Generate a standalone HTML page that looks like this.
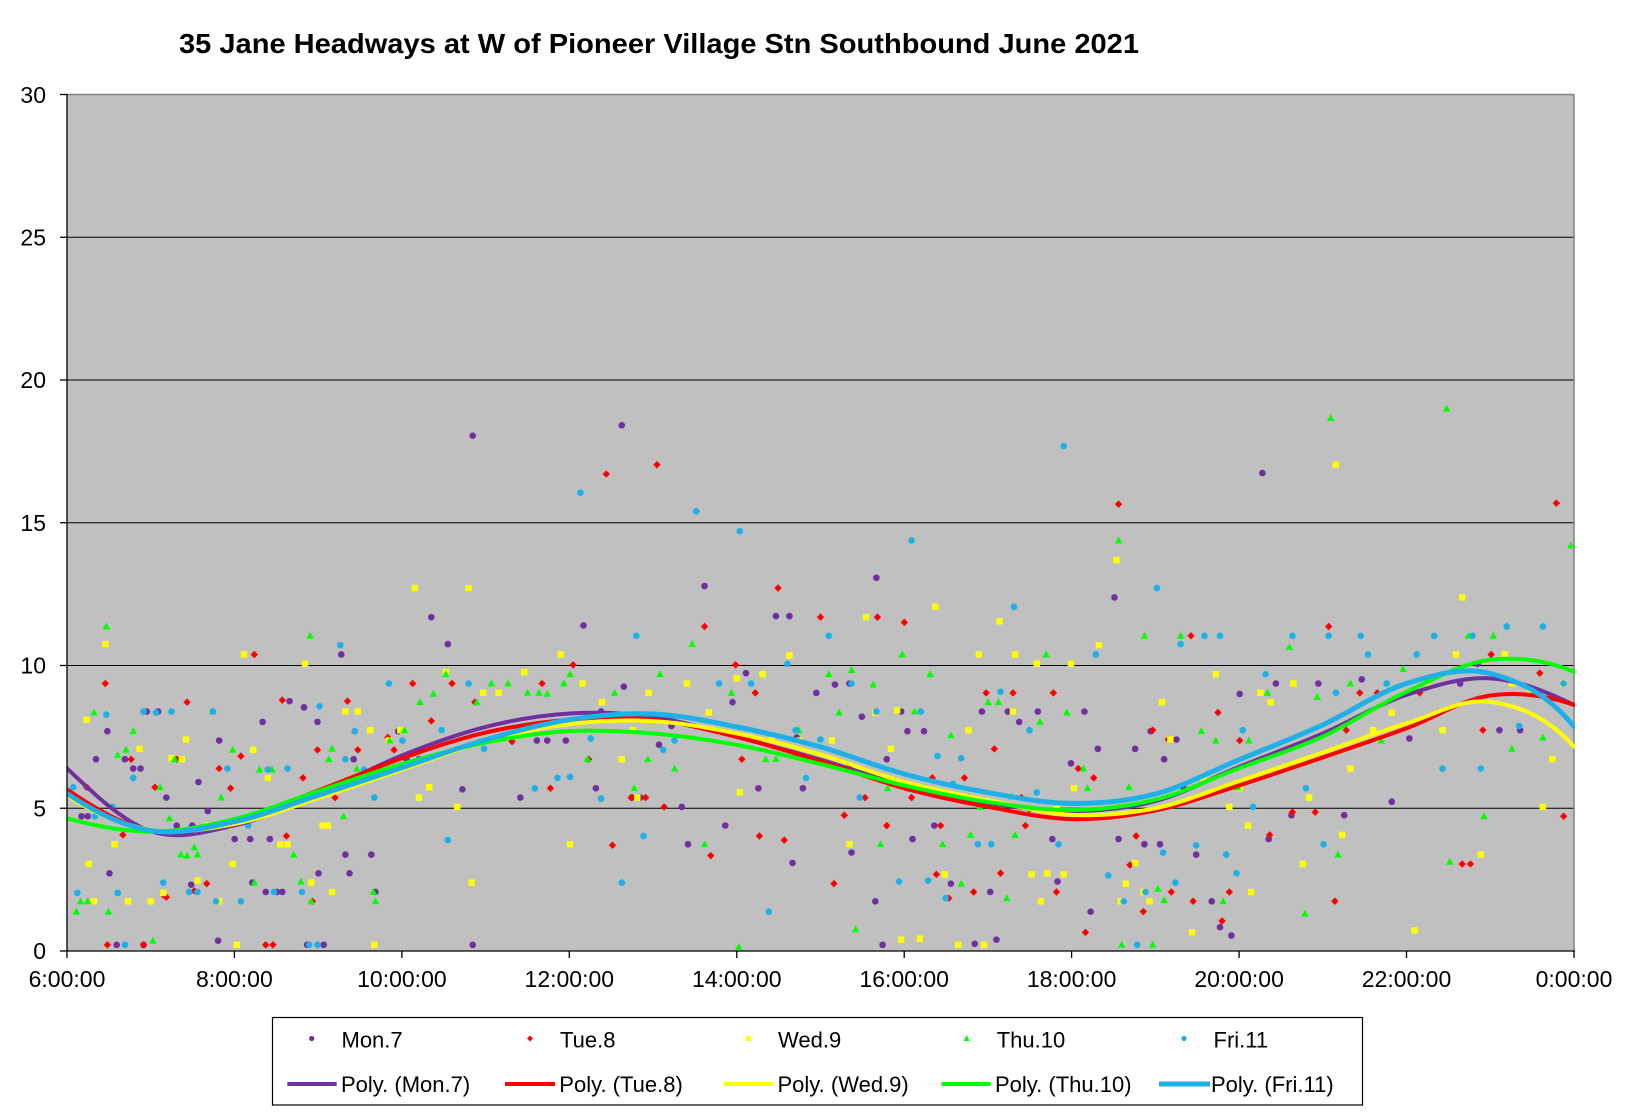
<!DOCTYPE html>
<html><head><meta charset="utf-8"><style>
html,body{margin:0;padding:0;background:#fff;}
svg{display:block;}
text{font-family:"Liberation Sans",Arial,sans-serif;fill:#000;}
</style></head><body>
<svg width="1625" height="1113" viewBox="0 0 1625 1113" xmlns="http://www.w3.org/2000/svg">
<defs>
<circle id="c" r="3.2"/>
<path id="d" d="M0,-3.6L3.6,0L0,3.6L-3.6,0Z"/>
<rect id="s" x="-3.1" y="-3.1" width="6.2" height="6.2"/>
<path id="t" d="M0,-3.8L3.6,2.8L-3.6,2.8Z"/>
<clipPath id="pa"><rect x="67" y="94" width="1508" height="858"/></clipPath>
</defs>
<rect width="1625" height="1113" fill="#fff"/>
<text x="179" y="53" font-size="27.5" font-weight="bold" textLength="960" lengthAdjust="spacingAndGlyphs">35 Jane Headways at W of Pioneer Village Stn Southbound June 2021</text>
<rect x="67" y="94.5" width="1507" height="856.5" fill="#C0C0C0"/>
<g stroke="#000" stroke-width="1">
<line x1="67" y1="808.25" x2="1574" y2="808.25"/>
<line x1="67" y1="665.5" x2="1574" y2="665.5"/>
<line x1="67" y1="522.75" x2="1574" y2="522.75"/>
<line x1="67" y1="380" x2="1574" y2="380"/>
<line x1="67" y1="237.25" x2="1574" y2="237.25"/>
</g>
<g stroke="#808080" stroke-width="1.5">
<line x1="67" y1="94.5" x2="1574" y2="94.5"/>
<line x1="1574" y1="94.5" x2="1574" y2="951"/>
</g>
<g clip-path="url(#pa)">
<g transform="matrix(1.035 0 0 1.037 0.76 -0.9)">
<g fill="#7030A0">
<use href="#c" x="78" y="788"/><use href="#c" x="84" y="788"/><use href="#c" x="92" y="733"/><use href="#c" x="103" y="706"/><use href="#c" x="105" y="843"/><use href="#c" x="112" y="912"/><use href="#c" x="120" y="733"/><use href="#c" x="128" y="742"/><use href="#c" x="135" y="742"/><use href="#c" x="141" y="687"/><use href="#c" x="138" y="912"/><use href="#c" x="152" y="687"/><use href="#c" x="160" y="770"/><use href="#c" x="170" y="797"/><use href="#c" x="185" y="797"/><use href="#c" x="184" y="854"/><use href="#c" x="191" y="755"/><use href="#c" x="200" y="783"/><use href="#c" x="211" y="715"/><use href="#c" x="210" y="908"/><use href="#c" x="226" y="810"/><use href="#c" x="241" y="810"/><use href="#c" x="243" y="852"/><use href="#c" x="256" y="861"/><use href="#c" x="253" y="697"/><use href="#c" x="260" y="810"/><use href="#c" x="267" y="861"/><use href="#c" x="272" y="861"/><use href="#c" x="279" y="677"/><use href="#c" x="293" y="683"/><use href="#c" x="296" y="912"/><use href="#c" x="306" y="697"/><use href="#c" x="307" y="843"/><use href="#c" x="312" y="912"/><use href="#c" x="329" y="632"/><use href="#c" x="333" y="825"/><use href="#c" x="337" y="843"/><use href="#c" x="341" y="733"/><use href="#c" x="358" y="825"/><use href="#c" x="362" y="861"/><use href="#c" x="384" y="706"/><use href="#c" x="392" y="733"/><use href="#c" x="404" y="733"/><use href="#c" x="416" y="596"/><use href="#c" x="432" y="622"/><use href="#c" x="446" y="762"/><use href="#c" x="456" y="421"/><use href="#c" x="456" y="912"/><use href="#c" x="483" y="712"/><use href="#c" x="502" y="770"/><use href="#c" x="518" y="715"/><use href="#c" x="528" y="715"/><use href="#c" x="546" y="715"/><use href="#c" x="563" y="604"/><use href="#c" x="575" y="761"/><use href="#c" x="580" y="687"/><use href="#c" x="600" y="411"/><use href="#c" x="602" y="663"/><use href="#c" x="610" y="770"/><use href="#c" x="618" y="770"/><use href="#c" x="636" y="719"/><use href="#c" x="648" y="701"/><use href="#c" x="658" y="779"/><use href="#c" x="664" y="815"/><use href="#c" x="680" y="566"/><use href="#c" x="700" y="797"/><use href="#c" x="707" y="678"/><use href="#c" x="720" y="650"/><use href="#c" x="732" y="761"/><use href="#c" x="749" y="595"/><use href="#c" x="762" y="595"/><use href="#c" x="765" y="833"/><use href="#c" x="769" y="712"/><use href="#c" x="775" y="761"/><use href="#c" x="788" y="669"/><use href="#c" x="806" y="661"/><use href="#c" x="820" y="660"/><use href="#c" x="822" y="823"/><use href="#c" x="832" y="692"/><use href="#c" x="846" y="558"/><use href="#c" x="845" y="870"/><use href="#c" x="852" y="912"/><use href="#c" x="856" y="733"/><use href="#c" x="870" y="687"/><use href="#c" x="876" y="706"/><use href="#c" x="881" y="810"/><use href="#c" x="892" y="706"/><use href="#c" x="902" y="797"/><use href="#c" x="918" y="853"/><use href="#c" x="929" y="770"/><use href="#c" x="941" y="911"/><use href="#c" x="948" y="687"/><use href="#c" x="956" y="861"/><use href="#c" x="962" y="907"/><use href="#c" x="973" y="687"/><use href="#c" x="984" y="697"/><use href="#c" x="994" y="781"/><use href="#c" x="1002" y="687"/><use href="#c" x="1016" y="810"/><use href="#c" x="1021" y="851"/><use href="#c" x="1034" y="737"/><use href="#c" x="1047" y="687"/><use href="#c" x="1053" y="880"/><use href="#c" x="1060" y="723"/><use href="#c" x="1076" y="577"/><use href="#c" x="1080" y="810"/><use href="#c" x="1096" y="723"/><use href="#c" x="1105" y="815"/><use href="#c" x="1111" y="706"/><use href="#c" x="1120" y="815"/><use href="#c" x="1124" y="733"/><use href="#c" x="1136" y="714"/><use href="#c" x="1143" y="761"/><use href="#c" x="1155" y="825"/><use href="#c" x="1170" y="870"/><use href="#c" x="1178" y="895"/><use href="#c" x="1189" y="903"/><use href="#c" x="1197" y="670"/><use href="#c" x="1219" y="457"/><use href="#c" x="1225" y="810"/><use href="#c" x="1232" y="660"/><use href="#c" x="1247" y="787"/><use href="#c" x="1273" y="660"/><use href="#c" x="1298" y="787"/><use href="#c" x="1315" y="656"/><use href="#c" x="1344" y="774"/><use href="#c" x="1361" y="713"/><use href="#c" x="1410" y="660"/><use href="#c" x="1427" y="641"/><use href="#c" x="1448" y="705"/><use href="#c" x="1468" y="705"/>
</g>
<g fill="#FF0000">
<use href="#d" x="83" y="760"/><use href="#d" x="101" y="660"/><use href="#d" x="103" y="912"/><use href="#d" x="118" y="806"/><use href="#d" x="126" y="733"/><use href="#d" x="138" y="912"/><use href="#d" x="149" y="760"/><use href="#d" x="157" y="864"/><use href="#d" x="160" y="866"/><use href="#d" x="170" y="733"/><use href="#d" x="180" y="678"/><use href="#d" x="187" y="860"/><use href="#d" x="199" y="853"/><use href="#d" x="211" y="742"/><use href="#d" x="222" y="761"/><use href="#d" x="245" y="632"/><use href="#d" x="232" y="730"/><use href="#d" x="256" y="912"/><use href="#d" x="263" y="912"/><use href="#d" x="272" y="676"/><use href="#d" x="276" y="807"/><use href="#d" x="292" y="751"/><use href="#d" x="301" y="870"/><use href="#d" x="306" y="724"/><use href="#d" x="323" y="770"/><use href="#d" x="335" y="677"/><use href="#d" x="345" y="724"/><use href="#d" x="374" y="712"/><use href="#d" x="380" y="724"/><use href="#d" x="398" y="660"/><use href="#d" x="416" y="696"/><use href="#d" x="436" y="660"/><use href="#d" x="458" y="678"/><use href="#d" x="476" y="714"/><use href="#d" x="494" y="716"/><use href="#d" x="523" y="660"/><use href="#d" x="531" y="761"/><use href="#d" x="553" y="642"/><use href="#d" x="568" y="733"/><use href="#d" x="585" y="458"/><use href="#d" x="591" y="816"/><use href="#d" x="609" y="770"/><use href="#d" x="623" y="770"/><use href="#d" x="634" y="449"/><use href="#d" x="641" y="779"/><use href="#d" x="680" y="605"/><use href="#d" x="686" y="826"/><use href="#d" x="716" y="733"/><use href="#d" x="710" y="642"/><use href="#d" x="729" y="669"/><use href="#d" x="733" y="807"/><use href="#d" x="751" y="568"/><use href="#d" x="757" y="811"/><use href="#d" x="792" y="596"/><use href="#d" x="805" y="853"/><use href="#d" x="815" y="787"/><use href="#d" x="820" y="740"/><use href="#d" x="835" y="770"/><use href="#d" x="847" y="596"/><use href="#d" x="856" y="797"/><use href="#d" x="873" y="601"/><use href="#d" x="880" y="770"/><use href="#d" x="900" y="751"/><use href="#d" x="904" y="844"/><use href="#d" x="908" y="797"/><use href="#d" x="916" y="867"/><use href="#d" x="931" y="751"/><use href="#d" x="935" y="770"/><use href="#d" x="940" y="861"/><use href="#d" x="952" y="669"/><use href="#d" x="960" y="723"/><use href="#d" x="966" y="843"/><use href="#d" x="978" y="669"/><use href="#d" x="986" y="770"/><use href="#d" x="990" y="797"/><use href="#d" x="1017" y="669"/><use href="#d" x="1020" y="861"/><use href="#d" x="1041" y="742"/><use href="#d" x="1048" y="900"/><use href="#d" x="1056" y="751"/><use href="#d" x="1080" y="487"/><use href="#d" x="1091" y="835"/><use href="#d" x="1097" y="807"/><use href="#d" x="1104" y="880"/><use href="#d" x="1113" y="705"/><use href="#d" x="1128" y="714"/><use href="#d" x="1131" y="861"/><use href="#d" x="1150" y="614"/><use href="#d" x="1152" y="870"/><use href="#d" x="1176" y="688"/><use href="#d" x="1180" y="889"/><use href="#d" x="1187" y="861"/><use href="#d" x="1197" y="715"/><use href="#d" x="1226" y="806"/><use href="#d" x="1248" y="784"/><use href="#d" x="1270" y="784"/><use href="#d" x="1283" y="605"/><use href="#d" x="1289" y="870"/><use href="#d" x="1300" y="705"/><use href="#d" x="1313" y="669"/><use href="#d" x="1330" y="669"/><use href="#d" x="1371" y="669"/><use href="#d" x="1412" y="834"/><use href="#d" x="1420" y="834"/><use href="#d" x="1432" y="705"/><use href="#d" x="1440" y="632"/><use href="#d" x="1487" y="650"/><use href="#d" x="1503" y="486"/><use href="#d" x="1510" y="788"/>
</g>
<g fill="#FFFF00">
<use href="#s" x="83" y="695"/><use href="#s" x="85" y="834"/><use href="#s" x="90" y="870"/><use href="#s" x="101" y="622"/><use href="#s" x="110" y="815"/><use href="#s" x="123" y="870"/><use href="#s" x="134" y="723"/><use href="#s" x="145" y="870"/><use href="#s" x="157" y="862"/><use href="#s" x="165" y="732"/><use href="#s" x="175" y="733"/><use href="#s" x="179" y="714"/><use href="#s" x="190" y="850"/><use href="#s" x="200" y="797"/><use href="#s" x="211" y="870"/><use href="#s" x="220" y="797"/><use href="#s" x="224" y="834"/><use href="#s" x="228" y="912"/><use href="#s" x="235" y="632"/><use href="#s" x="244" y="724"/><use href="#s" x="258" y="751"/><use href="#s" x="270" y="815"/><use href="#s" x="277" y="815"/><use href="#s" x="294" y="641"/><use href="#s" x="300" y="852"/><use href="#s" x="311" y="797"/><use href="#s" x="316" y="797"/><use href="#s" x="320" y="861"/><use href="#s" x="333" y="687"/><use href="#s" x="345" y="687"/><use href="#s" x="357" y="705"/><use href="#s" x="361" y="912"/><use href="#s" x="375" y="715"/><use href="#s" x="386" y="705"/><use href="#s" x="400" y="568"/><use href="#s" x="404" y="770"/><use href="#s" x="414" y="760"/><use href="#s" x="430" y="649"/><use href="#s" x="441" y="779"/><use href="#s" x="452" y="568"/><use href="#s" x="455" y="852"/><use href="#s" x="466" y="669"/><use href="#s" x="481" y="669"/><use href="#s" x="506" y="649"/><use href="#s" x="541" y="632"/><use href="#s" x="550" y="815"/><use href="#s" x="562" y="660"/><use href="#s" x="581" y="678"/><use href="#s" x="600" y="733"/><use href="#s" x="611" y="705"/><use href="#s" x="615" y="770"/><use href="#s" x="626" y="669"/><use href="#s" x="663" y="660"/><use href="#s" x="684" y="688"/><use href="#s" x="711" y="655"/><use href="#s" x="714" y="765"/><use href="#s" x="736" y="651"/><use href="#s" x="745" y="715"/><use href="#s" x="762" y="633"/><use href="#s" x="772" y="715"/><use href="#s" x="803" y="715"/><use href="#s" x="820" y="815"/><use href="#s" x="836" y="596"/><use href="#s" x="845" y="688"/><use href="#s" x="860" y="723"/><use href="#s" x="866" y="686"/><use href="#s" x="870" y="907"/><use href="#s" x="888" y="906"/><use href="#s" x="903" y="586"/><use href="#s" x="912" y="844"/><use href="#s" x="925" y="912"/><use href="#s" x="935" y="705"/><use href="#s" x="945" y="632"/><use href="#s" x="950" y="912"/><use href="#s" x="965" y="600"/><use href="#s" x="978" y="687"/><use href="#s" x="980" y="632"/><use href="#s" x="996" y="844"/><use href="#s" x="1001" y="641"/><use href="#s" x="1005" y="870"/><use href="#s" x="1011" y="843"/><use href="#s" x="1020" y="781"/><use href="#s" x="1027" y="844"/><use href="#s" x="1034" y="641"/><use href="#s" x="1037" y="761"/><use href="#s" x="1061" y="623"/><use href="#s" x="1078" y="541"/><use href="#s" x="1082" y="870"/><use href="#s" x="1087" y="853"/><use href="#s" x="1096" y="833"/><use href="#s" x="1104" y="861"/><use href="#s" x="1110" y="870"/><use href="#s" x="1122" y="678"/><use href="#s" x="1130" y="714"/><use href="#s" x="1151" y="900"/><use href="#s" x="1162" y="751"/><use href="#s" x="1174" y="651"/><use href="#s" x="1187" y="779"/><use href="#s" x="1197" y="761"/><use href="#s" x="1205" y="797"/><use href="#s" x="1208" y="861"/><use href="#s" x="1217" y="669"/><use href="#s" x="1227" y="678"/><use href="#s" x="1249" y="660"/><use href="#s" x="1258" y="834"/><use href="#s" x="1264" y="770"/><use href="#s" x="1290" y="449"/><use href="#s" x="1296" y="806"/><use href="#s" x="1304" y="742"/><use href="#s" x="1326" y="705"/><use href="#s" x="1344" y="688"/><use href="#s" x="1366" y="898"/><use href="#s" x="1377" y="659"/><use href="#s" x="1393" y="705"/><use href="#s" x="1406" y="632"/><use href="#s" x="1412" y="577"/><use href="#s" x="1430" y="825"/><use href="#s" x="1453" y="632"/><use href="#s" x="1460" y="660"/><use href="#s" x="1477" y="668"/><use href="#s" x="1490" y="779"/><use href="#s" x="1499" y="733"/><use href="#s" x="1510" y="660"/>
</g>
<g fill="#00FF00">
<use href="#t" x="73" y="880"/><use href="#t" x="77" y="870"/><use href="#t" x="84" y="870"/><use href="#t" x="90" y="688"/><use href="#t" x="102" y="605"/><use href="#t" x="104" y="880"/><use href="#t" x="113" y="729"/><use href="#t" x="121" y="724"/><use href="#t" x="128" y="706"/><use href="#t" x="147" y="908"/><use href="#t" x="154" y="760"/><use href="#t" x="163" y="790"/><use href="#t" x="168" y="733"/><use href="#t" x="174" y="825"/><use href="#t" x="180" y="826"/><use href="#t" x="187" y="818"/><use href="#t" x="190" y="825"/><use href="#t" x="205" y="687"/><use href="#t" x="213" y="770"/><use href="#t" x="224" y="724"/><use href="#t" x="245" y="852"/><use href="#t" x="250" y="743"/><use href="#t" x="262" y="743"/><use href="#t" x="283" y="825"/><use href="#t" x="290" y="851"/><use href="#t" x="299" y="614"/><use href="#t" x="300" y="870"/><use href="#t" x="317" y="733"/><use href="#t" x="320" y="723"/><use href="#t" x="331" y="788"/><use href="#t" x="344" y="742"/><use href="#t" x="360" y="861"/><use href="#t" x="362" y="870"/><use href="#t" x="376" y="715"/><use href="#t" x="390" y="705"/><use href="#t" x="405" y="678"/><use href="#t" x="418" y="670"/><use href="#t" x="430" y="651"/><use href="#t" x="460" y="678"/><use href="#t" x="474" y="660"/><use href="#t" x="490" y="660"/><use href="#t" x="509" y="669"/><use href="#t" x="520" y="669"/><use href="#t" x="528" y="670"/><use href="#t" x="544" y="660"/><use href="#t" x="550" y="651"/><use href="#t" x="567" y="733"/><use href="#t" x="593" y="669"/><use href="#t" x="612" y="761"/><use href="#t" x="625" y="733"/><use href="#t" x="637" y="651"/><use href="#t" x="651" y="742"/><use href="#t" x="668" y="622"/><use href="#t" x="680" y="815"/><use href="#t" x="706" y="669"/><use href="#t" x="713" y="914"/><use href="#t" x="739" y="733"/><use href="#t" x="749" y="733"/><use href="#t" x="771" y="705"/><use href="#t" x="800" y="651"/><use href="#t" x="810" y="688"/><use href="#t" x="822" y="647"/><use href="#t" x="826" y="897"/><use href="#t" x="843" y="661"/><use href="#t" x="850" y="815"/><use href="#t" x="857" y="761"/><use href="#t" x="871" y="632"/><use href="#t" x="883" y="687"/><use href="#t" x="898" y="651"/><use href="#t" x="910" y="815"/><use href="#t" x="918" y="710"/><use href="#t" x="928" y="853"/><use href="#t" x="937" y="806"/><use href="#t" x="946" y="779"/><use href="#t" x="954" y="678"/><use href="#t" x="964" y="678"/><use href="#t" x="972" y="867"/><use href="#t" x="977" y="769"/><use href="#t" x="980" y="806"/><use href="#t" x="1004" y="697"/><use href="#t" x="1010" y="632"/><use href="#t" x="1030" y="688"/><use href="#t" x="1046" y="742"/><use href="#t" x="1050" y="761"/><use href="#t" x="1080" y="522"/><use href="#t" x="1083" y="912"/><use href="#t" x="1090" y="760"/><use href="#t" x="1105" y="614"/><use href="#t" x="1113" y="912"/><use href="#t" x="1118" y="858"/><use href="#t" x="1124" y="869"/><use href="#t" x="1140" y="614"/><use href="#t" x="1160" y="706"/><use href="#t" x="1174" y="715"/><use href="#t" x="1181" y="870"/><use href="#t" x="1195" y="760"/><use href="#t" x="1206" y="715"/><use href="#t" x="1224" y="669"/><use href="#t" x="1245" y="625"/><use href="#t" x="1260" y="882"/><use href="#t" x="1272" y="673"/><use href="#t" x="1285" y="404"/><use href="#t" x="1292" y="825"/><use href="#t" x="1304" y="660"/><use href="#t" x="1334" y="715"/><use href="#t" x="1355" y="646"/><use href="#t" x="1388" y="688"/><use href="#t" x="1397" y="395"/><use href="#t" x="1400" y="832"/><use href="#t" x="1418" y="614"/><use href="#t" x="1433" y="788"/><use href="#t" x="1442" y="614"/><use href="#t" x="1460" y="723"/><use href="#t" x="1490" y="712"/><use href="#t" x="1517" y="527"/>
</g>
<g fill="#1FB0E8">
<use href="#c" x="70" y="760"/><use href="#c" x="74" y="862"/><use href="#c" x="84" y="779"/><use href="#c" x="91" y="788"/><use href="#c" x="102" y="690"/><use href="#c" x="108" y="779"/><use href="#c" x="113" y="862"/><use href="#c" x="120" y="912"/><use href="#c" x="128" y="751"/><use href="#c" x="138" y="687"/><use href="#c" x="150" y="688"/><use href="#c" x="157" y="852"/><use href="#c" x="165" y="687"/><use href="#c" x="182" y="861"/><use href="#c" x="190" y="861"/><use href="#c" x="205" y="687"/><use href="#c" x="208" y="870"/><use href="#c" x="219" y="742"/><use href="#c" x="232" y="870"/><use href="#c" x="239" y="797"/><use href="#c" x="258" y="743"/><use href="#c" x="264" y="861"/><use href="#c" x="277" y="742"/><use href="#c" x="291" y="861"/><use href="#c" x="298" y="912"/><use href="#c" x="306" y="912"/><use href="#c" x="308" y="682"/><use href="#c" x="328" y="623"/><use href="#c" x="333" y="733"/><use href="#c" x="342" y="706"/><use href="#c" x="351" y="743"/><use href="#c" x="361" y="770"/><use href="#c" x="375" y="660"/><use href="#c" x="388" y="715"/><use href="#c" x="405" y="724"/><use href="#c" x="426" y="705"/><use href="#c" x="432" y="811"/><use href="#c" x="452" y="660"/><use href="#c" x="467" y="723"/><use href="#c" x="475" y="714"/><use href="#c" x="500" y="705"/><use href="#c" x="516" y="761"/><use href="#c" x="538" y="751"/><use href="#c" x="550" y="750"/><use href="#c" x="560" y="476"/><use href="#c" x="570" y="713"/><use href="#c" x="580" y="771"/><use href="#c" x="600" y="852"/><use href="#c" x="614" y="614"/><use href="#c" x="621" y="807"/><use href="#c" x="640" y="724"/><use href="#c" x="651" y="715"/><use href="#c" x="672" y="494"/><use href="#c" x="694" y="660"/><use href="#c" x="714" y="513"/><use href="#c" x="725" y="660"/><use href="#c" x="742" y="880"/><use href="#c" x="760" y="641"/><use href="#c" x="768" y="705"/><use href="#c" x="778" y="751"/><use href="#c" x="792" y="714"/><use href="#c" x="800" y="614"/><use href="#c" x="822" y="660"/><use href="#c" x="830" y="770"/><use href="#c" x="846" y="687"/><use href="#c" x="868" y="851"/><use href="#c" x="880" y="522"/><use href="#c" x="889" y="687"/><use href="#c" x="896" y="850"/><use href="#c" x="905" y="730"/><use href="#c" x="913" y="867"/><use href="#c" x="920" y="757"/><use href="#c" x="928" y="732"/><use href="#c" x="944" y="815"/><use href="#c" x="957" y="815"/><use href="#c" x="966" y="668"/><use href="#c" x="979" y="586"/><use href="#c" x="994" y="705"/><use href="#c" x="1001" y="765"/><use href="#c" x="1022" y="815"/><use href="#c" x="1027" y="431"/><use href="#c" x="1040" y="790"/><use href="#c" x="1058" y="632"/><use href="#c" x="1070" y="845"/><use href="#c" x="1085" y="870"/><use href="#c" x="1098" y="912"/><use href="#c" x="1106" y="861"/><use href="#c" x="1117" y="568"/><use href="#c" x="1123" y="823"/><use href="#c" x="1135" y="852"/><use href="#c" x="1140" y="622"/><use href="#c" x="1155" y="816"/><use href="#c" x="1163" y="614"/><use href="#c" x="1178" y="614"/><use href="#c" x="1184" y="825"/><use href="#c" x="1194" y="843"/><use href="#c" x="1200" y="705"/><use href="#c" x="1210" y="779"/><use href="#c" x="1222" y="651"/><use href="#c" x="1248" y="614"/><use href="#c" x="1261" y="761"/><use href="#c" x="1278" y="815"/><use href="#c" x="1283" y="614"/><use href="#c" x="1290" y="669"/><use href="#c" x="1314" y="614"/><use href="#c" x="1321" y="632"/><use href="#c" x="1339" y="660"/><use href="#c" x="1368" y="632"/><use href="#c" x="1385" y="614"/><use href="#c" x="1393" y="742"/><use href="#c" x="1422" y="614"/><use href="#c" x="1430" y="742"/><use href="#c" x="1455" y="605"/><use href="#c" x="1467" y="701"/><use href="#c" x="1490" y="605"/><use href="#c" x="1510" y="660"/>
</g>
</g>
<g transform="matrix(83.72 0 0 -28.55 67 951)" fill="none" stroke-linecap="round" stroke-linejoin="round">
<path vector-effect="non-scaling-stroke" stroke="#7030A0" stroke-width="4" d="M0,6.40 C0.333,5.467 0.667,4.533 1,4.20 S1.667,4.183 2,4.40 S2.667,5.092 3,5.50 S3.667,6.458 4,6.85 S4.667,7.605 5,7.85 S5.667,8.262 6,8.32 S6.667,8.337 7,8.20 S7.667,7.75 8,7.50 S8.667,6.983 9,6.70 S9.667,6.053 10,5.80 S10.667,5.33 11,5.18 S11.667,4.888 12,4.90 S12.667,4.992 13,5.25 S13.667,6.055 14,6.45 S14.667,7.20 15,7.62 S15.667,8.648 16,8.97 S16.667,9.608 17,9.55 S17.667,9.09 18,8.62"/>
<path vector-effect="non-scaling-stroke" stroke="#FF0000" stroke-width="4" d="M0,5.66 C0.333,4.993 0.667,4.405 1,4.22 S1.667,4.317 2,4.55 S2.667,5.253 3,5.62 S3.667,6.412 4,6.75 S4.667,7.425 5,7.65 S5.667,8.025 6,8.10 S6.667,8.20 7,8.10 S7.667,7.742 8,7.50 S8.667,6.95 9,6.65 S9.667,5.967 10,5.70 S10.667,5.23 11,5.05 S11.667,4.642 12,4.62 S12.667,4.723 13,4.92 S13.667,5.49 14,5.80 S14.667,6.447 15,6.78 S15.667,7.438 16,7.80 S16.667,8.813 17,8.95 S17.667,8.95 18,8.62"/>
<path vector-effect="non-scaling-stroke" stroke="#FFFF00" stroke-width="4" d="M0,5.45 C0.333,4.783 0.667,4.417 1,4.25 S1.667,4.267 2,4.45 S2.667,5.033 3,5.35 S3.667,6.017 4,6.35 S4.667,7.083 5,7.35 S5.667,7.833 6,7.95 S6.667,8.105 7,8.05 S7.667,7.815 8,7.62 S8.667,7.163 9,6.88 S9.667,6.187 10,5.92 S10.667,5.472 11,5.28 S11.667,4.817 12,4.77 S12.667,4.803 13,5.00 S13.667,5.625 14,5.95 S14.667,6.613 15,6.95 S15.667,7.673 16,7.97 S16.667,8.865 17,8.73 S17.667,8.23 18,7.16"/>
<path vector-effect="non-scaling-stroke" stroke="#00FF00" stroke-width="4" d="M0,4.65 C0.333,4.38 0.667,4.185 1,4.18 S1.667,4.383 2,4.62 S2.667,5.278 3,5.60 S3.667,6.267 4,6.55 S4.667,7.108 5,7.30 S5.667,7.647 6,7.70 S6.667,7.70 7,7.62 S7.667,7.398 8,7.22 S8.667,6.787 9,6.55 S9.667,6.022 10,5.80 S10.667,5.363 11,5.22 S11.667,4.927 12,4.94 S12.667,5.057 13,5.30 S13.667,6.032 14,6.40 S14.667,7.063 15,7.51 S15.667,8.632 16,9.08 S16.667,10.083 17,10.20 S17.667,10.18 18,9.78"/>
<path vector-effect="non-scaling-stroke" stroke="#1FB0E8" stroke-width="5" d="M0,5.52 C0.333,4.853 0.667,4.385 1,4.22 S1.667,4.325 2,4.53 S2.667,5.135 3,5.45 S3.667,6.095 4,6.42 S4.667,7.12 5,7.40 S5.667,7.95 6,8.10 S6.667,8.342 7,8.30 S7.667,8.042 8,7.85 S8.667,7.425 9,7.15 S9.667,6.467 10,6.20 S10.667,5.722 11,5.55 S11.667,5.178 12,5.17 S12.667,5.245 13,5.50 S13.667,6.297 14,6.70 S14.667,7.475 15,7.92 S15.667,9.07 16,9.37 S16.667,9.972 17,9.72 S17.667,9.06 18,7.86"/>
</g>
</g>
<g stroke="#000" stroke-width="1.3">
<line x1="67" y1="94" x2="67" y2="951"/>
<line x1="67" y1="951" x2="1575" y2="951"/>
<line x1="60" y1="94.5" x2="67" y2="94.5"/>
<line x1="60" y1="237.25" x2="67" y2="237.25"/>
<line x1="60" y1="380" x2="67" y2="380"/>
<line x1="60" y1="522.75" x2="67" y2="522.75"/>
<line x1="60" y1="665.5" x2="67" y2="665.5"/>
<line x1="60" y1="808.25" x2="67" y2="808.25"/>
<line x1="60" y1="951" x2="67" y2="951"/>
<line x1="67" y1="951" x2="67" y2="958"/>
<line x1="234.4" y1="951" x2="234.4" y2="958"/>
<line x1="401.9" y1="951" x2="401.9" y2="958"/>
<line x1="569.3" y1="951" x2="569.3" y2="958"/>
<line x1="736.8" y1="951" x2="736.8" y2="958"/>
<line x1="904.2" y1="951" x2="904.2" y2="958"/>
<line x1="1071.6" y1="951" x2="1071.6" y2="958"/>
<line x1="1239.1" y1="951" x2="1239.1" y2="958"/>
<line x1="1406.5" y1="951" x2="1406.5" y2="958"/>
<line x1="1574" y1="951" x2="1574" y2="958"/>
</g>
<g font-size="23" text-anchor="end">
<text x="46" y="103">30</text>
<text x="46" y="245.5">25</text>
<text x="46" y="388">20</text>
<text x="46" y="531">15</text>
<text x="46" y="673.5">10</text>
<text x="46" y="816.5">5</text>
<text x="46" y="959">0</text>
</g>
<g font-size="23" text-anchor="middle">
<text x="67" y="987">6:00:00</text>
<text x="234.4" y="987">8:00:00</text>
<text x="401.9" y="987">10:00:00</text>
<text x="569.3" y="987">12:00:00</text>
<text x="736.8" y="987">14:00:00</text>
<text x="904.2" y="987">16:00:00</text>
<text x="1071.6" y="987">18:00:00</text>
<text x="1239.1" y="987">20:00:00</text>
<text x="1406.5" y="987">22:00:00</text>
<text x="1574" y="987">0:00:00</text>
</g>
<rect x="272.5" y="1017.5" width="1090" height="87.5" fill="#fff" stroke="#000" stroke-width="1.2"/>
<circle cx="311.7" cy="1038.5" r="2.6" fill="#7030A0"/>
<path d="M530,1035.5L533,1038.5L530,1041.5L527,1038.5Z" fill="#FF0000"/>
<rect x="746" y="1036" width="5" height="5" fill="#FFFF00"/>
<path d="M966.7,1035L969.7,1041L963.7,1041Z" fill="#00FF00"/>
<circle cx="1184" cy="1038.5" r="2.6" fill="#1FB0E8"/>
<g font-size="22">
<text x="341.5" y="1047.5">Mon.7</text>
<text x="560" y="1047.5">Tue.8</text>
<text x="778" y="1047.5">Wed.9</text>
<text x="996.7" y="1047.5">Thu.10</text>
<text x="1213.5" y="1047.5">Fri.11</text>
<text x="341" y="1092">Poly. (Mon.7)</text>
<text x="559.3" y="1092">Poly. (Tue.8)</text>
<text x="777.5" y="1092">Poly. (Wed.9)</text>
<text x="995" y="1092">Poly. (Thu.10)</text>
<text x="1211" y="1092">Poly. (Fri.11)</text>
</g>
<g stroke-width="4">
<line x1="287.3" y1="1084" x2="336.7" y2="1084" stroke="#7030A0"/>
<line x1="505" y1="1084" x2="555" y2="1084" stroke="#FF0000"/>
<line x1="723.5" y1="1084" x2="773" y2="1084" stroke="#FFFF00"/>
<line x1="941.7" y1="1084" x2="990.7" y2="1084" stroke="#00FF00"/>
<line x1="1159" y1="1084" x2="1210" y2="1084" stroke="#1FB0E8" stroke-width="5"/>
</g>
</svg>
</body></html>
